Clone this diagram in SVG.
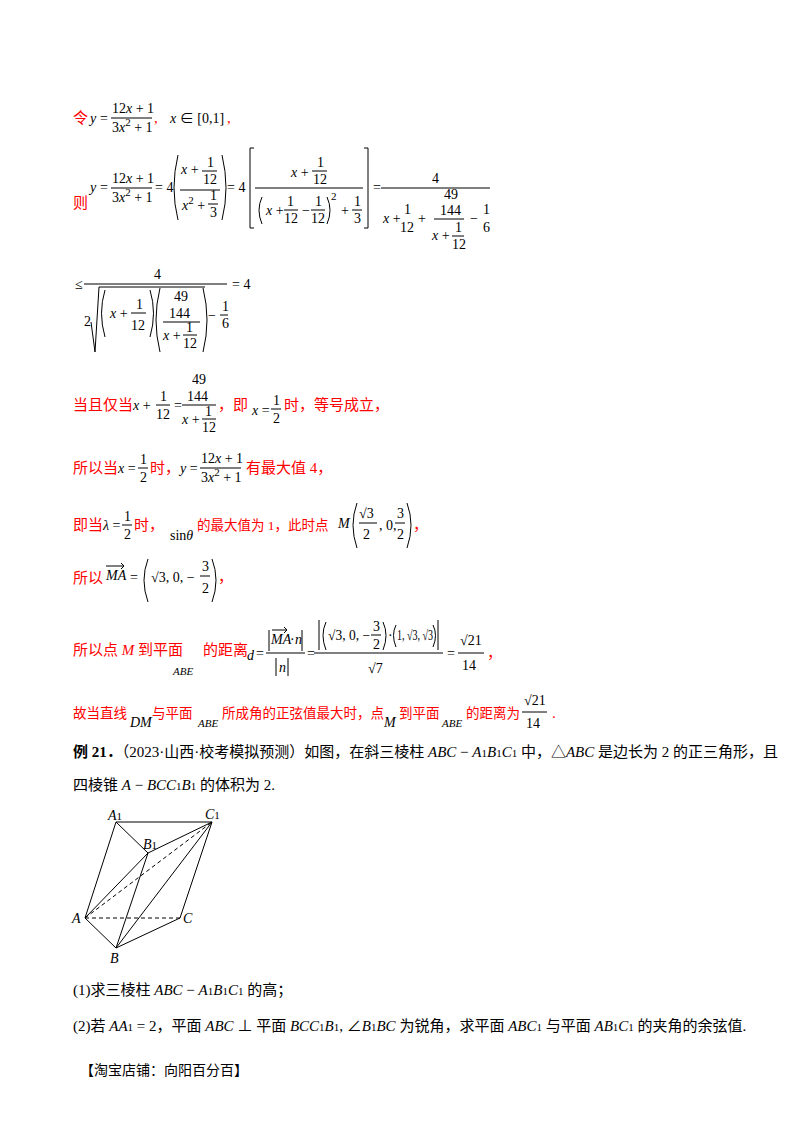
<svg xmlns="http://www.w3.org/2000/svg" width="800" height="1132" viewBox="0 0 800 1132">
<style>
text{font-family:"Liberation Serif","Noto Sans CJK SC",serif;font-size:14px;fill:#000}
.r{fill:#f00;font-size:15px}
.r13{fill:#f00;font-size:13.5px}
.b{fill:#000;font-size:15px}
.i{font-style:italic}
.s{font-size:11px}
line,path,polyline{stroke:#000;stroke-width:1;fill:none}
.d{stroke-dasharray:4,3}
</style>
<rect width="800" height="1132" fill="#fff"/>
<g id="line1">
<text x="73" y="123" class="r">令</text>
<text x="90" y="123" class="i">y</text><text x="100" y="123">=</text>
<text x="112" y="113">12<tspan class="i">x</tspan> + 1</text><line x1="111" y1="118" x2="152" y2="118"/>
<text x="112" y="132">3<tspan class="i">x</tspan><tspan class="s" dy="-6">2</tspan><tspan dy="6"> + 1</tspan></text>
<text x="154" y="123" class="r">,</text>
<text x="170" y="123"><tspan class="i">x</tspan> ∈ [0,1]</text><text x="227" y="123" class="r">,</text>
</g>
<g id="line2">
<text x="73" y="208" class="r">则</text>
<text x="90" y="192" class="i">y</text><text x="100" y="192">=</text>
<text x="112" y="183">12<tspan class="i">x</tspan> + 1</text><line x1="111" y1="188" x2="152" y2="188"/>
<text x="112" y="202">3<tspan class="i">x</tspan><tspan class="s" dy="-6">2</tspan><tspan dy="6"> + 1</tspan></text>
<text x="155" y="192">= 4</text>
<path d="M178 155 Q170 188 178 220"/><path d="M222 155 Q230 188 222 220"/>
<text x="181" y="174"><tspan class="i">x</tspan> +</text><text x="207" y="167">1</text><line x1="202" y1="171" x2="217" y2="171"/><text x="203" y="184">12</text>
<line x1="180" y1="190" x2="220" y2="190"/>
<text x="182" y="210"><tspan class="i">x</tspan><tspan class="s" dy="-6">2</tspan><tspan dy="6"> +</tspan></text><text x="210" y="200">1</text><line x1="208" y1="204" x2="218" y2="204"/><text x="210" y="217">3</text>
<text x="227" y="192">= 4</text>
<path d="M254 148 L250 148 L250 228 L254 228"/><path d="M364 148 L368 148 L368 228 L364 228"/>
<text x="291" y="177"><tspan class="i">x</tspan> +</text><text x="317" y="167">1</text><line x1="312" y1="171" x2="327" y2="171"/><text x="313" y="184">12</text>
<line x1="255" y1="188" x2="363" y2="188"/>
<path d="M262 197 Q256 210 262 224"/><text x="266" y="215"><tspan class="i">x</tspan> +</text>
<text x="287" y="206">1</text><line x1="284" y1="210" x2="298" y2="210"/><text x="284" y="223">12</text>
<text x="302" y="215">−</text><text x="315" y="206">1</text><line x1="311" y1="210" x2="325" y2="210"/><text x="311" y="223">12</text>
<path d="M327 197 Q333 210 327 224"/><text x="331" y="200" class="s">2</text>
<text x="341" y="215">+</text><text x="354" y="206">1</text><line x1="352" y1="210" x2="362" y2="210"/><text x="354" y="223">3</text>
<text x="373" y="192">=</text>
<text x="432" y="183">4</text><line x1="381" y1="188" x2="490" y2="188"/>
<text x="383" y="223"><tspan class="i">x</tspan> +</text><text x="404" y="214">1</text><text x="400" y="232">12</text><text x="418" y="223">+</text>
<text x="444" y="199">49</text><text x="440" y="215">144</text><line x1="434" y1="219" x2="464" y2="219"/>
<text x="432" y="240"><tspan class="i">x</tspan> +</text><text x="455" y="232">1</text><line x1="452" y1="236" x2="464" y2="236"/><text x="452" y="249">12</text>
<text x="470" y="223">−</text><text x="483" y="214">1</text><text x="483" y="232">6</text>
</g>
<g id="line3">
<text x="75" y="289">≤</text>
<text x="154" y="279">4</text><line x1="84" y1="284" x2="227" y2="284"/>
<text x="232" y="289">= 4</text>
<text x="84" y="326">2</text>
<polyline points="91,322 95,352 99,287 205,287"/>
<path d="M105 290 Q98 313 105 337"/><text x="110" y="318"><tspan class="i">x</tspan> +</text>
<text x="136" y="309">1</text><line x1="131" y1="313" x2="146" y2="313"/><text x="131" y="330">12</text>
<path d="M150 290 Q157 313 150 337"/>
<path d="M160 288 Q152 320 160 352"/>
<text x="174" y="301">49</text><text x="169" y="318">144</text><line x1="163" y1="322" x2="200" y2="322"/>
<text x="163" y="340"><tspan class="i">x</tspan> +</text><text x="186" y="332">1</text><line x1="183" y1="335" x2="197" y2="335"/><text x="183" y="348">12</text>
<path d="M203 288 Q211 320 203 352"/>
<text x="208" y="320">−</text><text x="222" y="311">1</text><line x1="220" y1="315" x2="228" y2="315"/><text x="222" y="328">6</text>
</g>
<g id="line4">
<text x="73" y="410" class="r">当且仅当</text>
<text x="133" y="410"><tspan class="i">x</tspan> +</text><text x="160" y="401">1</text><line x1="156" y1="405" x2="170" y2="405"/><text x="156" y="419">12</text>
<text x="174" y="410">=</text>
<text x="192" y="384">49</text><text x="187" y="401">144</text><line x1="182" y1="405" x2="216" y2="405"/>
<text x="182" y="424"><tspan class="i">x</tspan> +</text><text x="205" y="416">1</text><line x1="202" y1="419" x2="216" y2="419"/><text x="202" y="432">12</text>
<text x="218" y="410" class="r">，即</text>
<text x="252" y="415"><tspan class="i">x</tspan> =</text><text x="273" y="405">1</text><line x1="271" y1="409" x2="281" y2="409"/><text x="273" y="423">2</text>
<text x="284" y="410" class="r">时，等号成立，</text>
</g>
<g id="line5">
<text x="73" y="473" class="r">所以当</text>
<text x="118" y="473"><tspan class="i">x</tspan> =</text><text x="140" y="464">1</text><line x1="138" y1="468" x2="148" y2="468"/><text x="140" y="482">2</text>
<text x="150" y="473" class="r">时，</text>
<text x="180" y="473"><tspan class="i">y</tspan> =</text>
<text x="201" y="463">12<tspan class="i">x</tspan> + 1</text><line x1="200" y1="468" x2="241" y2="468"/>
<text x="201" y="482">3<tspan class="i">x</tspan><tspan class="s" dy="-6">2</tspan><tspan dy="6"> + 1</tspan></text>
<text x="246" y="473" class="r">有最大值 4，</text>
</g>
<g id="line6">
<text x="73" y="530" class="r">即当</text>
<text x="103" y="530"><tspan class="i">λ</tspan> =</text><text x="124" y="521">1</text><line x1="122" y1="525" x2="132" y2="525"/><text x="124" y="539">2</text>
<text x="134" y="530" class="r">时，</text>
<text x="170" y="540">sin<tspan class="i">θ</tspan></text>
<text x="197" y="530" class="r13">的最大值为 1，此时点</text>
<text x="338" y="528" class="i">M</text>
<path d="M357 503 Q349 525 357 548"/>
<text x="359" y="518">√3</text><line x1="359" y1="523" x2="377" y2="523"/><text x="363" y="539">2</text>
<text x="379" y="530">, 0,</text><text x="397" y="518">3</text><line x1="395" y1="523" x2="405" y2="523"/><text x="397" y="539">2</text>
<path d="M407 503 Q415 525 407 548"/><text x="413" y="530" class="r">，</text>
</g>
<g id="line7">
<text x="73" y="583" class="r">所以</text>
<text x="106" y="580" class="i">MA</text>
<line x1="106" y1="566" x2="124" y2="566"/><polyline points="121,563 124,566 121,569"/>
<text x="130" y="582">=</text>
<path d="M148 559 Q140 580 148 602"/>
<text x="151" y="582">√3, 0, −</text><text x="202" y="571">3</text><line x1="200" y1="576" x2="210" y2="576"/><text x="202" y="593">2</text>
<path d="M212 559 Q220 580 212 602"/><text x="218" y="582" class="r">，</text>
</g>
<g id="line8">
<text x="73" y="655" class="r">所以点 <tspan class="i">M</tspan> 到平面</text>
<text x="173" y="675" class="i s">ABE</text>
<text x="203" y="655" class="r">的距离</text>
<text x="247" y="660" class="i">d</text><text x="256" y="658">=</text>
<line x1="269" y1="630" x2="269" y2="651"/><line x1="302" y1="630" x2="302" y2="651"/>
<text x="271" y="644" class="i" font-size="13">MA</text><text x="290" y="644" font-size="13">·</text><text x="295" y="644" class="i" font-size="13">n</text>
<line x1="272" y1="630" x2="287" y2="630"/><polyline points="284,627 287,630 284,633"/>
<line x1="266" y1="653" x2="305" y2="653"/>
<line x1="276" y1="658" x2="276" y2="676"/><line x1="288" y1="658" x2="288" y2="676"/><text x="279" y="672" class="i">n</text>
<text x="307" y="658">=</text>
<line x1="319" y1="620" x2="319" y2="650"/><line x1="438" y1="620" x2="438" y2="650"/>
<path d="M326 622 Q320 635 326 650"/><text x="328" y="640" textLength="42" lengthAdjust="spacingAndGlyphs">√3, 0, −</text>
<text x="373" y="631">3</text><line x1="371" y1="635" x2="381" y2="635"/><text x="373" y="649">2</text>
<path d="M383 622 Q389 635 383 650"/><text x="388" y="640">·</text>
<path d="M396 625 Q391 635 396 647"/><text x="397" y="640" textLength="36" lengthAdjust="spacingAndGlyphs">1, √3, √3</text><path d="M433 625 Q438 635 433 647"/>
<line x1="314" y1="653" x2="443" y2="653"/>
<text x="368" y="673">√7</text>
<text x="447" y="658">=</text>
<text x="460" y="645">√21</text><line x1="458" y1="653" x2="484" y2="653"/><text x="462" y="670">14</text>
<text x="487" y="658" class="r">，</text>
</g>
<g id="line9">
<text x="73" y="718" class="r13">故当直线</text>
<text x="130" y="727" class="i">DM</text>
<text x="152" y="718" class="r13">与平面</text>
<text x="198" y="727" class="i s">ABE</text>
<text x="222" y="718" class="r13">所成角的正弦值最大时，点</text>
<text x="384" y="727" class="i">M</text>
<text x="399" y="718" class="r13">到平面</text>
<text x="442" y="727" class="i s">ABE</text>
<text x="466" y="718" class="r13">的距离为</text>
<text x="524" y="705">√21</text><line x1="522" y1="712" x2="547" y2="712"/><text x="526" y="728">14</text>
<text x="552" y="718" class="r">.</text>
</g>
<g id="example">
<text x="73" y="757" class="b"><tspan font-weight="bold">例 21．</tspan>（2023·山西·校考模拟预测）如图，在斜三棱柱 <tspan class="i">ABC</tspan> − <tspan class="i">A</tspan><tspan class="s">1</tspan><tspan class="i">B</tspan><tspan class="s">1</tspan><tspan class="i">C</tspan><tspan class="s">1</tspan> 中，△<tspan class="i">ABC</tspan> 是边长为 2 的正三角形，且</text>
<text x="73" y="790" class="b">四棱锥 <tspan class="i">A</tspan> − <tspan class="i">BCC</tspan><tspan class="s">1</tspan><tspan class="i">B</tspan><tspan class="s">1</tspan> 的体积为 2.</text>
</g>
<g id="figure">
<line x1="116" y1="822" x2="212" y2="822"/>
<line x1="116" y1="822" x2="148" y2="853"/>
<line x1="148" y1="853" x2="212" y2="822"/>
<line x1="116" y1="822" x2="85" y2="918"/>
<line x1="212" y1="822" x2="180" y2="918"/>
<line x1="148" y1="853" x2="85" y2="918"/>
<line x1="148" y1="853" x2="116" y2="948"/>
<line x1="212" y1="822" x2="116" y2="948"/>
<line x1="85" y1="918" x2="116" y2="948"/>
<line x1="116" y1="948" x2="180" y2="918"/>
<line class="d" x1="85" y1="918" x2="180" y2="918"/>
<line class="d" x1="85" y1="918" x2="212" y2="822"/>
<text x="108" y="820" class="i">A<tspan class="s" font-style="normal">1</tspan></text>
<text x="205" y="819" class="i">C<tspan class="s" font-style="normal">1</tspan></text>
<text x="143" y="849" class="i">B<tspan class="s" font-style="normal">1</tspan></text>
<text x="72" y="923" class="i">A</text>
<text x="183" y="923" class="i">C</text>
<text x="110" y="963" class="i">B</text>
</g>
<g id="questions">
<text x="73" y="995" class="b">(1)求三棱柱 <tspan class="i">ABC</tspan> − <tspan class="i">A</tspan><tspan class="s">1</tspan><tspan class="i">B</tspan><tspan class="s">1</tspan><tspan class="i">C</tspan><tspan class="s">1</tspan> 的高；</text>
<text x="73" y="1031" class="b">(2)若 <tspan class="i">AA</tspan><tspan class="s">1</tspan> = 2，平面 <tspan class="i">ABC</tspan> ⊥ 平面 <tspan class="i">BCC</tspan><tspan class="s">1</tspan><tspan class="i">B</tspan><tspan class="s">1</tspan>, ∠<tspan class="i">B</tspan><tspan class="s">1</tspan><tspan class="i">BC</tspan> 为锐角，求平面 <tspan class="i">ABC</tspan><tspan class="s">1</tspan> 与平面 <tspan class="i">AB</tspan><tspan class="s">1</tspan><tspan class="i">C</tspan><tspan class="s">1</tspan> 的夹角的余弦值.</text>
<text x="80" y="1075" class="b" style="font-size:14px">【淘宝店铺：向阳百分百】</text>
</g>
</svg>
